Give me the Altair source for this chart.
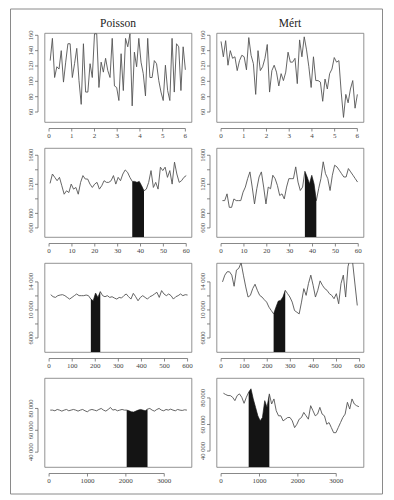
import altair as alt
import pandas as pd

# ---------------- data ----------------
# Row 1 : x 0..6
p1_vals = [127, 156, 105, 119, 116, 140, 99, 125, 149, 149, 105, 123, 143, 101, 70, 149, 86, 86,
           123, 105, 162, 162, 92, 125, 112, 130, 114, 105, 156, 94, 92, 75, 136, 88, 156, 145,
           162, 68, 138, 119, 156, 125, 110, 81, 156, 105, 105, 127, 123, 101, 86, 75, 121, 88,
           75, 156, 86, 149, 145, 88, 145, 115]
m1_vals = [152, 132, 153, 121, 140, 130, 132, 114, 127, 134, 132, 115, 157, 134, 123, 83, 140, 114,
           119, 130, 148, 86, 114, 121, 112, 94, 110, 101, 112, 138, 125, 125, 130, 97, 154, 132,
           158, 141, 119, 92, 132, 101, 101, 99, 74, 103, 90, 110, 116, 131, 125, 127, 86, 53,
           83, 72, 90, 101, 65, 83]
# Row 2 : x 0..60
p2_vals = [1213, 1342, 1296, 1250, 1296, 1180, 1064, 1111, 1087, 1203, 1134, 1157, 1064, 1227,
           1320, 1273, 1273, 1203, 1157, 1203, 1227, 1134, 1180, 1250, 1227, 1227, 1250, 1320,
           1203, 1296, 1250, 1342, 1398, 1366, 1296, 1240, 1240, 1227, 1240, 1180, 1111, 1134,
           1227, 1389, 1157, 1227, 1134, 1436, 1389, 1436, 1296, 1389, 1203, 1505, 1342, 1227,
           1250, 1296, 1320]
m2_vals = [976, 976, 1069, 883, 883, 999, 976, 976, 976, 1092, 1162, 1278, 1371, 1162, 930, 1139,
           1301, 1371, 1162, 930, 1162, 1139, 1325, 1278, 1185, 1046, 1069, 999, 1162, 1278, 1278,
           1278, 1440, 1231, 1115, 1162, 1380, 1301, 1208, 1325, 1208, 976, 1139, 1278, 1510,
           1347, 1278, 1115, 1325, 1463, 1440, 1394, 1347, 1301, 1301, 1417, 1371, 1325, 1278, 1231]
# Row 3 : x 0..600
p3_vals = [12180, 11890, 11790, 12040, 12130, 12180, 12040, 11790, 11550, 11790, 12040, 12280,
           12040, 12040, 12040, 12130, 12040, 11550, 11310, 12420, 11790, 12620, 12040, 11890,
           12040, 11790, 11890, 11700, 11550, 11790, 11700, 12040, 12280, 11890, 11550, 12370,
           11890, 11310, 11790, 12040, 11790, 11550, 11890, 12040, 12280, 12520, 11790, 12760,
           12280, 12040, 12280, 12040, 11550, 11890, 12040, 12280, 12040, 12180, 12130]
m3_vals = [14006, 14968, 15449, 15449, 14968, 13381, 15690, 15930, 16748, 14968, 13285, 11842,
           12082, 13044, 13670, 12804, 12082, 11842, 11457, 11120, 10399, 9918, 9437, 10399,
           11264, 11361, 11842, 12804, 12323, 11842, 11120, 9918, 9678, 9437, 11120, 13044, 12082,
           13766, 14968, 13526, 11842, 12804, 14151, 13526, 13044, 12804, 12323, 12082, 11601,
           12323, 10880, 13766, 14968, 11842, 16171, 17500, 16800, 13700, 10640]
# Row 4 : x 0..3600
p4_vals = [78485, 78485, 77879, 79091, 78485, 77576, 78485, 79091, 77879, 78485, 79091, 78485,
           77576, 78485, 79091, 77879, 76970, 78485, 79091, 78485, 77879, 79091, 80000, 78485,
           77576, 79091, 80909, 78485, 79091, 77879, 78485, 79091, 78485, 78485, 77879, 76970,
           76667, 77576, 78485, 79091, 78485, 77879, 79394, 80000, 78485, 77576, 79091, 80000,
           78485, 77879, 79091, 78485, 79394, 78485, 77879, 79091, 78485, 78182, 78788, 78485]
m4_vals = [83556, 82540, 81778, 81778, 80508, 77968, 81778, 83048, 80508, 75936, 80508, 84318,
           86858, 79238, 72888, 66538, 62728, 65268, 77968, 72888, 83048, 75428, 79238, 70348,
           66538, 66538, 62728, 63998, 65268, 65268, 62728, 57648, 60188, 63998, 65268, 69078,
           66538, 63998, 74158, 70348, 66538, 67808, 72888, 67808, 66538, 60188, 61458, 57648,
           53838, 53838, 57648, 61458, 65268, 67808, 76698, 71618, 79238, 75428, 74158, 73396]

titles = ["Poisson", "Mért"]

# x span of each series (first / last observation)
p1_span, m1_span = (0.05, 6.0), (0.0, 6.0)
p2_span, m2_span = (0.44, 60.0), (0.6, 59.7)
p3_span, m3_span = (7, 600), (6, 590)
p4_span, m4_span = (30, 3590), (60, 3590)

# shaded (black) stretches
p2_shade, m2_shade = (36.3, 41.7), (36.5, 41.8)
p3_shade, m3_shade = (178, 225), (225, 280)
p4_shade, m4_shade = (2010, 2580), (700, 1270)

# axes: tick values and their labels ("" = tick without label)
x_labels = [
    {0: "0", 1: "1", 2: "2", 3: "3", 4: "4", 5: "5", 6: "6"},
    {0: "0", 10: "10", 20: "20", 30: "30", 40: "40", 50: "50", 60: "60"},
    {0: "0", 100: "100", 200: "200", 300: "300", 400: "400", 500: "500", 600: "600"},
    {0: "0", 1000: "1000", 2000: "2000", 3000: "3000"},
]
x_domains = [(-0.2, 6.27), (-2.0, 62.3), (-20, 617), (-120, 3710)]
y_labels = [
    {60: "60", 80: "80", 100: "100", 120: "120", 140: "140", 160: "160"},
    {600: "600", 800: "800", 1000: "", 1200: "1200", 1400: "", 1600: "1600"},
    {6000: "6000", 8000: "", 10000: "10 000", 12000: "", 14000: "14 000"},
    {40000: "40 000", 60000: "60 000", 80000: "80 000"},
]
y_domains_p = [(47, 163), (475, 1700), (4000, 16700), (26400, 107900)]
y_domains_m = [(47, 163), (475, 1700), (4000, 16700), (28000, 95000)]

# ---------------- styling ----------------
W, H = 147, 89
FONT = "Liberation Serif"
LINE = "#555555"
AX = "#6a6a6a"
TXT = "#444444"
OFF = 6.5
TICK = 3


def panel(vals, span, xdom, ydom, xlab, ylab, shade=None, title=None, frame=False):
    n = len(vals)
    xs = [span[0] + i * (span[1] - span[0]) / (n - 1) for i in range(n)]
    df = pd.DataFrame({"x": xs, "y": vals})
    xt, yt = list(xlab.keys()), list(ylab.keys())
    xsc = alt.Scale(domain=list(xdom), nice=False, zero=False)
    ysc = alt.Scale(domain=list(ydom), nice=False, zero=False)
    base = alt.Chart(df)
    layers = [
        base.mark_line(color=LINE, strokeWidth=0.9, clip=True).encode(
            x=alt.X("x:Q", scale=xsc, axis=None),
            y=alt.Y("y:Q", scale=ysc, axis=None),
        )
    ]
    if shade:
        layers.append(
            base.transform_filter((alt.datum.x >= shade[0]) & (alt.datum.x <= shade[1]))
            .transform_calculate(y0=str(ydom[0]))
            .mark_area(color="#141414", clip=True, opacity=1)
            .encode(x=alt.X("x:Q", axis=None), y=alt.Y("y:Q", axis=None), y2="y0:Q")
        )
    # R-style detached axes, drawn through the panel's own scales
    xline = pd.DataFrame({"a": [xt[0]], "b": [xt[-1]]})
    yline = pd.DataFrame({"a": [yt[0]], "b": [yt[-1]]})
    xtk = pd.DataFrame({"v": xt, "t": [xlab[k] for k in xt]})
    ytk = pd.DataFrame({"v": yt, "t": [ylab[k] for k in yt]})
    layers += [
        alt.Chart(xline).mark_rule(color=AX, strokeWidth=0.8).encode(
            x=alt.X("a:Q", axis=None), x2="b:Q", y=alt.value(H + OFF)),
        alt.Chart(yline).mark_rule(color=AX, strokeWidth=0.8).encode(
            y=alt.Y("a:Q", axis=None), y2="b:Q", x=alt.value(-OFF)),
        alt.Chart(xtk).mark_rule(color=AX, strokeWidth=0.8).encode(
            x=alt.X("v:Q", axis=None), y=alt.value(H + OFF), y2=alt.value(H + OFF + TICK)),
        alt.Chart(ytk).mark_rule(color=AX, strokeWidth=0.8).encode(
            y=alt.Y("v:Q", axis=None), x=alt.value(-OFF), x2=alt.value(-OFF - TICK)),
        alt.Chart(xtk).mark_text(font=FONT, fontSize=7, color=TXT, baseline="top",
                                 align="center").encode(
            x=alt.X("v:Q", axis=None), y=alt.value(H + OFF + TICK + 0.5), text="t:N"),
        alt.Chart(ytk).mark_text(font=FONT, fontSize=6.5, color=TXT, baseline="bottom",
                                 align="center", angle=270).encode(
            y=alt.Y("v:Q", axis=None), x=alt.value(-OFF - TICK - 1.5), text="t:N"),
    ]
    one = alt.Chart(pd.DataFrame({"k": [0]}))
    if title:
        layers.append(
            one.mark_text(font=FONT, fontSize=11.5, color="#222", baseline="alphabetic",
                          align="center").encode(
                x=alt.value(W / 2), y=alt.value(-6), text=alt.value(title))
        )
    if frame:
        layers.append(
            one.mark_rect(fillOpacity=0, stroke="#8a8a8a", strokeWidth=1).encode(
                x=alt.value(-34), x2=alt.value(338), y=alt.value(-24), y2=alt.value(461))
        )
    return alt.layer(*layers).properties(width=W, height=H)


P = [(p1_vals, p1_span, None), (p2_vals, p2_span, p2_shade),
     (p3_vals, p3_span, p3_shade), (p4_vals, p4_span, p4_shade)]
M = [(m1_vals, m1_span, None), (m2_vals, m2_span, m2_shade),
     (m3_vals, m3_span, m3_shade), (m4_vals, m4_span, m4_shade)]

panels = []
for r in range(4):
    panels.append(panel(P[r][0], P[r][1], x_domains[r], y_domains_p[r], x_labels[r], y_labels[r],
                        P[r][2], title=titles[0] if r == 0 else None, frame=(r == 0)))
    panels.append(panel(M[r][0], M[r][1], x_domains[r], y_domains_m[r], x_labels[r], y_labels[r],
                        M[r][2], title=titles[1] if r == 0 else None))

chart = (
    alt.concat(*panels, columns=2, spacing={"row": 26, "column": 25}, bounds="flush")
    .properties(padding={"left": 1.5, "top": 0, "right": 0, "bottom": 0}, background="white")
    .configure_view(stroke="#777777", strokeWidth=0.8)
)

chart.save("out.html", embed_options={"renderer": "svg", "actions": False})
